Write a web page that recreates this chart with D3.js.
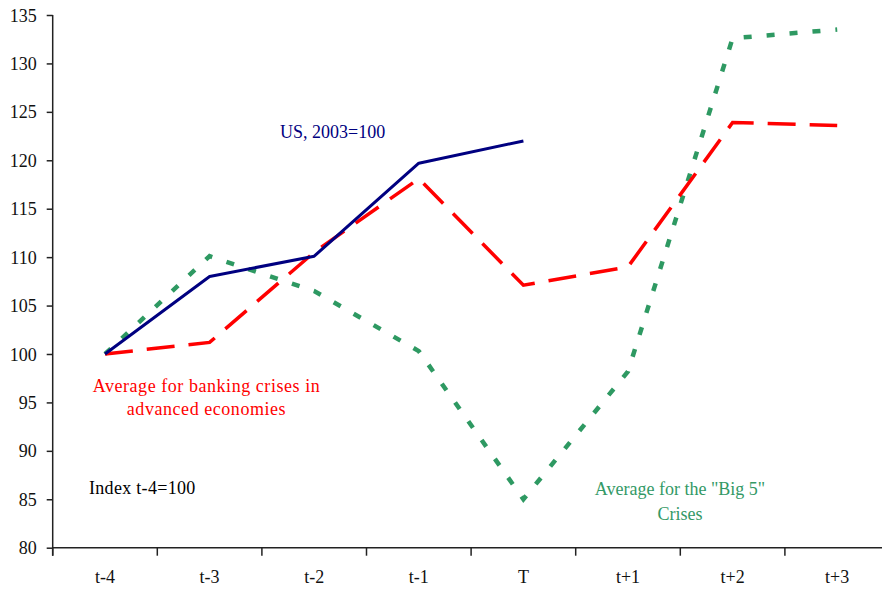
<!DOCTYPE html>
<html>
<head>
<meta charset="utf-8">
<script src="https://cdn.jsdelivr.net/npm/d3@7"></script>
<style>
body{margin:0;background:#fff;}
svg{display:block;}
text{font-family:"Liberation Serif","Times New Roman",serif;}
</style>
</head>
<body>
<svg id="chart" width="882" height="592"></svg>
<script>
const categories = ["t-4","t-3","t-2","t-1","T","t+1","t+2","t+3"];
const usValues = [100, 108, 110.1, 119.7, 122.0];
const bankingValues = [100, 101.2, 110.5, 118.1, 107.1, 109.0, 123.9, 123.6];
const big5Values = [100, 110.1, 106.5, 100.3, 85.0, 98.2, 132.6, 133.5];
const yTicks = [80, 85, 90, 95, 100, 105, 110, 115, 120, 125, 130, 135];

const svg = d3.select("#chart");
const mLeft = 52.7, mRight = 889.5, mTop = 15, mBottom = 547.7;
const FS = 18;

const x = d3.scaleBand().domain(categories).range([mLeft, mRight]).padding(0);
const y = d3.scaleLinear().domain([80, 135]).range([mBottom, mTop]);
const cx = c => x(c) + x.bandwidth() / 2;

// Y axis
const yAxis = svg.append("g")
  .attr("transform", `translate(${mLeft},0)`)
  .call(d3.axisLeft(y).tickValues(yTicks).tickSize(6).tickPadding(10).tickFormat(d3.format("d")));
yAxis.select(".domain").attr("stroke", "#222").attr("stroke-width", 1.5).attr("d", `M0,${mTop}V${mBottom + 8}`);
yAxis.selectAll(".tick line").attr("stroke", "#222").attr("stroke-width", 1.5);
yAxis.selectAll(".tick text").attr("font-size", FS).attr("fill", "#111")
  .attr("font-family", "'Liberation Serif','Times New Roman',serif").attr("dy", "0.34em");

// X axis
const xAxis = svg.append("g")
  .attr("transform", `translate(0,${mBottom})`)
  .call(d3.axisBottom(x).tickSize(0).tickPadding(30));
xAxis.select(".domain").attr("stroke", "#222").attr("stroke-width", 1.5).attr("d", `M${mLeft},0H${mRight}`);
xAxis.selectAll(".tick text").attr("font-size", FS).attr("fill", "#111")
  .attr("font-family", "'Liberation Serif','Times New Roman',serif").attr("dy", "0.3em");
const boundaries = categories.map(c => x(c)).concat([x(categories[categories.length - 1]) + x.bandwidth()]);
xAxis.selectAll(".btick").data(boundaries).enter().append("line")
  .attr("x1", d => d).attr("x2", d => d).attr("y1", 0).attr("y2", 8)
  .attr("stroke", "#222").attr("stroke-width", 1.5);

const line = d3.line().x((d, i) => cx(categories[i])).y(d => y(d));

// Big 5 (green dotted)
svg.append("path").datum(big5Values).attr("d", line)
  .attr("fill", "none").attr("stroke", "#2E9962").attr("stroke-width", 4.5)
  .attr("stroke-dasharray", "8,15");

// Banking crises (red dashed)
svg.append("path").datum(bankingValues).attr("d", line)
  .attr("fill", "none").attr("stroke", "#FF0000").attr("stroke-width", 3.5)
  .attr("stroke-dasharray", "28,14");

// US (navy solid)
svg.append("path").datum(usValues).attr("d", line)
  .attr("fill", "none").attr("stroke", "#000080").attr("stroke-width", 3)
  .attr("stroke-linejoin", "round");

// Annotations
const ann = (txt, xp, yp, color, anchor, ls) => svg.append("text")
  .attr("x", xp).attr("y", yp).attr("fill", color).attr("font-size", FS)
  .attr("letter-spacing", ls || 0)
  .attr("text-anchor", anchor || "start").text(txt);

ann("US, 2003=100", 280, 138, "#000080");
ann("Average for banking crises in", 206.5, 391.5, "#FF0000", "middle", 0.55);
ann("advanced economies", 206.5, 415, "#FF0000", "middle", 0.55);
ann("Index t-4=100", 89, 494, "#000000", "start", 0.3);
ann("Average for the \"Big 5\"", 680, 495, "#339966", "middle");
ann("Crises", 680, 520, "#339966", "middle");
</script>
</body>
</html>
